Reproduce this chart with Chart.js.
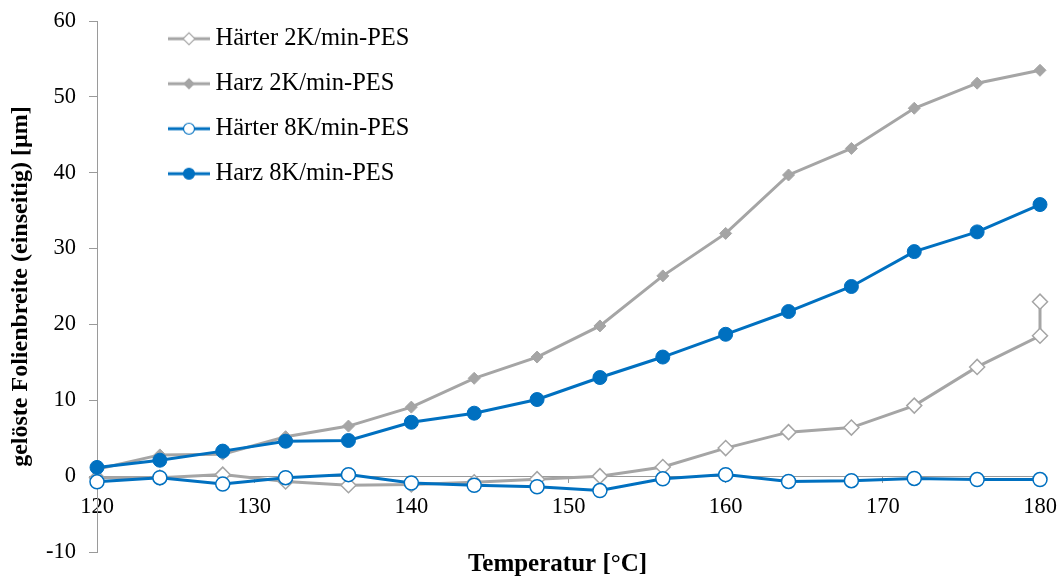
<!DOCTYPE html>
<html>
<head>
<meta charset="utf-8">
<script src="https://cdn.jsdelivr.net/npm/chart.js@4.4.1/dist/chart.umd.min.js"></script>
<style>
  html, body { margin: 0; padding: 0; background: #fff; }
  canvas { display: block; }
</style>
</head>
<body>
<canvas id="chart" width="1057" height="581"></canvas>
<script>
// Temperatures (°C), one reading every 4 K
const temps = [120, 124, 128, 132, 136, 140, 144, 148, 152, 156, 160, 164, 168, 172, 176, 180];
// Härter 2K has a second reading at 180 °C
const haerter2KTemps = [120, 124, 128, 132, 136, 140, 144, 148, 152, 156, 160, 164, 168, 172, 176, 180, 180];

const haerter2K = [-0.2, -0.2, 0.2, -0.7, -1.2, -1.1, -0.8, -0.4, 0.0, 1.2, 3.7, 5.8, 6.4, 9.3, 14.4, 18.5, 23.0];
const harz2K    = [0.9, 2.8, 2.9, 5.2, 6.6, 9.1, 12.9, 15.7, 19.8, 26.4, 32.0, 39.7, 43.2, 48.5, 51.8, 53.5];
const haerter8K = [-0.75, -0.2, -1.05, -0.2, 0.2, -0.9, -1.2, -1.4, -1.9, -0.35, 0.2, -0.7, -0.6, -0.3, -0.45, -0.45];
const harz8K    = [1.15, 2.1, 3.3, 4.6, 4.7, 7.1, 8.3, 10.1, 13.0, 15.7, 18.7, 21.7, 25.0, 29.6, 32.2, 35.8];

const labels = ['Härter 2K/min-PES', 'Harz 2K/min-PES', 'Härter 8K/min-PES', 'Harz 8K/min-PES'];

const yTicks = { min: -10, max: 60, step: 10 };
const xTicks = { min: 120, max: 180, step: 10 };

const GRAY = '#a5a5a5';
const BLUE = '#0070c0';
const AXIS = '#9a9a9a';
const FONT = "'Liberation Serif', 'Times New Roman', serif";

const pts = (xs, ys) => xs.map((x, i) => ({ x, y: ys[i] }));

// small line + marker pictures for the legend
function legendIcon(color, shape, fill, r) {
  const c = document.createElement('canvas');
  c.width = 42; c.height = 18;
  const g = c.getContext('2d');
  g.strokeStyle = color;
  g.lineWidth = 3;
  g.beginPath(); g.moveTo(0, 9); g.lineTo(42, 9); g.stroke();
  g.beginPath();
  if (shape === 'diamond') {
    g.moveTo(21 - r, 9); g.lineTo(21, 9 - r); g.lineTo(21 + r, 9); g.lineTo(21, 9 + r); g.closePath();
  } else {
    g.arc(21, 9, r, 0, Math.PI * 2);
  }
  g.fillStyle = fill; g.fill();
  g.lineWidth = 1.2; g.stroke();
  return c;
}
const icons = [
  legendIcon(GRAY, 'diamond', '#fff', 6),
  legendIcon(GRAY, 'diamond', GRAY, 5),
  legendIcon(BLUE, 'circle', '#fff', 5.5),
  legendIcon(BLUE, 'circle', BLUE, 5.5),
];

// move legend and bottom title to where the original has them
const placeBoxes = {
  id: 'placeBoxes',
  afterLayout(chart) {
    const lg = chart.legend;
    lg.left = 154.25;
    lg.top = 6;
    const t = chart.titleBlock;
    t.left = 75;
    t.right = 1040;
  }
};

new Chart(document.getElementById('chart'), {
  type: 'line',
  data: {
    datasets: [
      {
        label: labels[0], data: pts(haerter2KTemps, haerter2K), clip: false,
        borderColor: GRAY, borderWidth: 3, pointStyle: 'rectRot', pointRadius: 7.5,
        pointBackgroundColor: '#fff', pointBorderColor: GRAY, pointBorderWidth: 1.5, order: 4,
      },
      {
        label: labels[1], data: pts(temps, harz2K), clip: false,
        borderColor: GRAY, borderWidth: 3, pointStyle: 'rectRot', pointRadius: 6,
        pointBackgroundColor: GRAY, pointBorderColor: GRAY, pointBorderWidth: 1, order: 3,
      },
      {
        label: labels[2], data: pts(temps, haerter8K), clip: false,
        borderColor: BLUE, borderWidth: 3, pointStyle: 'circle', pointRadius: 7,
        pointBackgroundColor: '#fff', pointBorderColor: BLUE, pointBorderWidth: 1.5, order: 2,
      },
      {
        label: labels[3], data: pts(temps, harz8K), clip: false,
        borderColor: BLUE, borderWidth: 3, pointStyle: 'circle', pointRadius: 7,
        pointBackgroundColor: BLUE, pointBorderColor: BLUE, pointBorderWidth: 1, order: 1,
      },
    ],
  },
  options: {
    responsive: false,
    animation: false,
    layout: { autoPadding: false, padding: { left: 4, top: 21, right: 17, bottom: 0 } },
    plugins: {
      tooltip: { enabled: false },
      legend: {
        position: 'chartArea',
        align: 'start',
        labels: {
          usePointStyle: true,
          pointStyleWidth: 28.5,
          padding: 20.5,
          color: '#000',
          font: { family: FONT, size: 24.5 },
          sort: (a, b) => a.datasetIndex - b.datasetIndex,
          generateLabels(chart) {
            const items = Chart.defaults.plugins.legend.labels.generateLabels(chart);
            items.forEach(it => { it.pointStyle = icons[it.datasetIndex]; });
            return items;
          },
        },
      },
      title: {
        display: true,
        position: 'bottom',
        text: 'Temperatur [°C]',
        color: '#000',
        font: { family: FONT, size: 25, weight: 'bold', lineHeight: 1 },
        padding: { top: 0.5, bottom: 3.5 },
      },
    },
    scales: {
      x: {
        type: 'linear',
        position: { y: 0 },
        min: xTicks.min, max: xTicks.max,
        ticks: { stepSize: xTicks.step, color: '#000', font: { family: FONT, size: 22.5 }, padding: 11, maxRotation: 0 },
        grid: { drawOnChartArea: false, tickLength: 6, color: AXIS },
        border: { color: AXIS, width: 1 },
        afterFit(s) { s.height = 0; s.paddingLeft = 0; s.paddingRight = 0; },
      },
      y: {
        type: 'linear',
        min: yTicks.min, max: yTicks.max,
        ticks: { stepSize: yTicks.step, color: '#000', font: { family: FONT, size: 22.5 }, padding: 13 },
        grid: { drawOnChartArea: false, tickLength: 8, color: AXIS },
        border: { color: AXIS, width: 1 },
        title: {
          display: true,
          text: 'gelöste Folienbreite (einseitig) [µm]',
          color: '#000',
          font: { family: FONT, size: 24, weight: 'bold' },
          padding: { top: 2, bottom: 2 },
        },
        afterFit(s) { s.width = 93; s.paddingTop = 0; s.paddingBottom = 0; },
      },
    },
  },
  plugins: [placeBoxes],
});
</script>
</body>
</html>
